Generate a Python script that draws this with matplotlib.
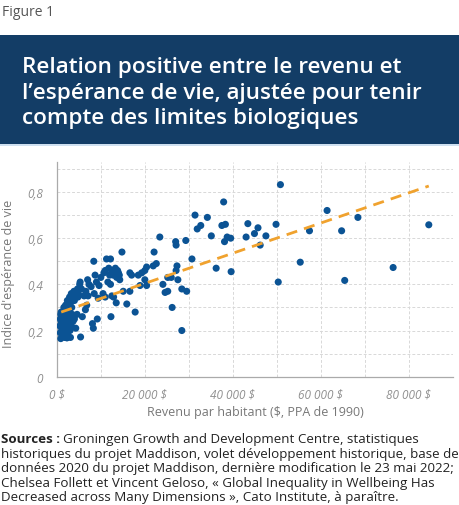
import matplotlib
matplotlib.use("Agg")
import matplotlib.pyplot as plt
from matplotlib.patches import Rectangle
import numpy as np

# ---------------- data (income in thousands of 1990 PPP $, life expectancy index) ----------------
income_k = [
    0.9, 1.8, 2.3, 3.1, 5.4,
    0.7, 0.8, 0.9, 1.0, 1.1, 1.2, 1.3, 1.4, 1.5, 1.6, 1.7, 1.8, 1.9, 2.0, 2.1, 2.2, 2.3,
    2.4, 2.5, 2.6, 2.8, 2.9, 3.0, 3.2, 3.3, 3.5, 3.7, 4.0, 4.3, 4.6, 0.8, 1.0, 1.3, 1.6,
    2.0, 2.6, 3.4, 1.2, 2.7,
    2.4, 2.9, 3.3, 3.6, 3.9, 4.2, 4.5, 4.8, 5.2, 5.3, 5.6, 3.1, 4.0, 5.0, 4.7, 5.8, 6.2,
    6.5, 6.8, 7.0, 7.3, 7.1, 6.6, 7.8,
    8.1, 8.3, 8.4, 8.7, 9.2, 9.6, 9.0, 10.0, 8.5, 9.4, 10.7, 11.0, 11.3, 12.2, 11.8, 12.0,
    12.5, 12.8, 13.3, 13.6, 14.0, 14.2, 13.8, 11.6, 12.2, 12.3, 12.5, 12.9, 13.5, 10.5,
    11.0, 14.3,
    14.8, 15.1, 15.9, 16.6, 16.6, 17.0, 17.8, 18.5, 18.9, 19.3, 20.0, 20.0, 20.4, 20.4,
    21.9, 22.6, 22.1, 23.4, 24.1, 24.6, 25.2, 25.2, 26.0, 26.2, 27.0, 27.1, 27.1, 27.3,
    27.5, 28.4, 28.4, 29.3, 29.5, 30.7,
    31.4, 31.9, 32.7, 34.2, 35.1, 36.2, 37.5, 38.3, 37.9, 38.1, 38.7, 39.5, 39.6, 43.0,
    43.4, 44.9, 45.7, 46.2, 47.5, 49.8, 50.3, 50.8, 55.3, 57.4, 61.4, 64.7, 65.4, 68.4,
    76.4, 84.5,
]
life_index = [
    0.165, 0.17, 0.168, 0.17, 0.172,
    0.22, 0.25, 0.27, 0.24, 0.20, 0.23, 0.26, 0.21, 0.28, 0.25, 0.19, 0.23, 0.27, 0.21,
    0.25, 0.29, 0.19, 0.23, 0.26, 0.21, 0.24, 0.28, 0.20, 0.26, 0.22, 0.27, 0.24, 0.25,
    0.21, 0.27, 0.19, 0.28, 0.18, 0.30, 0.31, 0.30, 0.30, 0.245, 0.265,
    0.33, 0.345, 0.36, 0.34, 0.37, 0.35, 0.36, 0.345, 0.40, 0.41, 0.38, 0.32, 0.33, 0.355,
    0.38, 0.26, 0.35, 0.29, 0.31, 0.42, 0.40, 0.35, 0.37, 0.39,
    0.23, 0.21, 0.50, 0.44, 0.25, 0.395, 0.41, 0.43, 0.36, 0.34, 0.45, 0.46, 0.51, 0.51,
    0.47, 0.44, 0.46, 0.44, 0.47, 0.43, 0.45, 0.44, 0.46, 0.41, 0.40, 0.26, 0.35, 0.345,
    0.32, 0.36, 0.345, 0.42,
    0.54, 0.37, 0.315, 0.45, 0.37, 0.44, 0.28, 0.44, 0.395, 0.45, 0.46, 0.42, 0.395, 0.475,
    0.48, 0.49, 0.54, 0.605, 0.40, 0.365, 0.37, 0.43, 0.43, 0.30, 0.585, 0.57, 0.46, 0.48,
    0.42, 0.20, 0.38, 0.59, 0.37, 0.51,
    0.70, 0.64, 0.655, 0.69, 0.61, 0.47, 0.655, 0.66, 0.757, 0.585, 0.605, 0.60, 0.455,
    0.605, 0.663, 0.62, 0.645, 0.57, 0.61, 0.66, 0.41, 0.832, 0.496, 0.632, 0.72, 0.632,
    0.417, 0.69, 0.473, 0.658,
]
trend_income_k = [1.0, 84.5]
trend_index = [0.28, 0.826]

y_ticks = [0, 0.2, 0.4, 0.6, 0.8]
y_tick_labels = ["0", "0,2", "0,4", "0,6", "0,8"]
x_ticks = [0, 20000, 40000, 60000, 80000]
x_tick_labels = ["0 $", "20 000 $", "40 000 $", "60 000 $", "80 000 $"]

title = "Relation positive entre le revenu et\nl’espérance de vie, ajustée pour tenir\ncompte des limites biologiques"
fig_label = "Figure 1"
x_label = "Revenu par habitant ($, PPA de 1990)"
y_label = "Indice d'espérance de vie"

FONT = ["Open Sans", "DejaVu Sans"]
plt.rcParams["font.family"] = FONT

W, H = 460, 506
fig = plt.figure(figsize=(W / 100, H / 100), dpi=100)

def fx(px):
    return px / W

def fy(py):
    return 1 - py / H

# "Figure 1"
fig.text(fx(2), fy(12), fig_label, fontsize=10, color="#555555", va="center", ha="left")

# title band
fig.patches.append(Rectangle((0, fy(145)), 1, fy(36) - fy(145), transform=fig.transFigure,
                             facecolor="#133d66", edgecolor="none", zorder=0))
fig.patches.append(Rectangle((0, fy(147)), 1, fy(145) - fy(147), transform=fig.transFigure,
                             facecolor="#cfe0f0", edgecolor="none", zorder=0))
fig.text(fx(22), fy(93), title, fontsize=16.2, fontweight="semibold", color="white",
         va="center", ha="left", linespacing=1.3)

# axes
ax = fig.add_axes([fx(56.8), fy(377.7), fx(453) - fx(56.8), fy(163) - fy(377.7)])
xs = np.array(income_k) * 1000
ax.scatter(xs, life_index, s=26, color="#0b5394", edgecolors="none", zorder=3)
ax.plot(np.array(trend_income_k) * 1000, trend_index, color="#f0a22e", lw=2,
        dashes=(4, 2.6), zorder=4)

ax.set_xlim(0, 90000)
ax.set_ylim(0, 0.93)
ax.set_xticks(x_ticks)
ax.set_xticklabels(x_tick_labels)
ax.set_yticks(y_ticks)
ax.set_yticklabels(y_tick_labels)
ax.set_xticks(np.arange(0, 90001, 10000), minor=True)
ax.set_yticks(np.arange(0, 0.91, 0.1), minor=True)
ax.grid(which="both", color="#d8d8d8", linestyle=(0, (3, 2)), linewidth=0.7)
ax.set_axisbelow(True)
for s in ["top", "right"]:
    ax.spines[s].set_visible(False)
for s in ["left", "bottom"]:
    ax.spines[s].set_color("#aaaaaa")
    ax.spines[s].set_linewidth(0.9)
ax.tick_params(which="both", length=0)
ax.tick_params(axis="x", pad=8, labelsize=8.5, labelcolor="#909090")
ax.tick_params(axis="y", pad=10, labelsize=8.5, labelcolor="#909090")
for lab in ax.get_xticklabels() + ax.get_yticklabels():
    lab.set_fontstyle("italic")

fig.text(fx(255), fy(413), x_label, fontsize=9, color="#777777", ha="center", va="center")
fig.text(fx(9), fy(274), y_label, fontsize=9, color="#777777", ha="center", va="center",
         rotation=90)

# sources
src_lines = [
    "Groningen Growth and Development Centre, statistiques",
    "historiques du projet Maddison, volet développement historique, base de",
    "données 2020 du projet Maddison, dernière modification le 23 mai 2022;",
    "Chelsea Follett et Vincent Geloso, « Global Inequality in Wellbeing Has",
    "Decreased across Many Dimensions », Cato Institute, à paraître.",
]
src_y = [440, 454.5, 469, 483.3, 497.7]
t = fig.text(fx(1), fy(src_y[0]), "Sources :", fontsize=9.6, fontweight="bold",
             color="#222222", ha="left", va="center")
fig.canvas.draw()
bb = t.get_window_extent()
fig.text((bb.x1 + 3) / W, fy(src_y[0]), src_lines[0], fontsize=9.6, color="#222222",
         ha="left", va="center")
for line, yy in zip(src_lines[1:], src_y[1:]):
    fig.text(fx(1), fy(yy), line, fontsize=9.6, color="#222222", ha="left", va="center")

fig.savefig("out.png", dpi=100)
